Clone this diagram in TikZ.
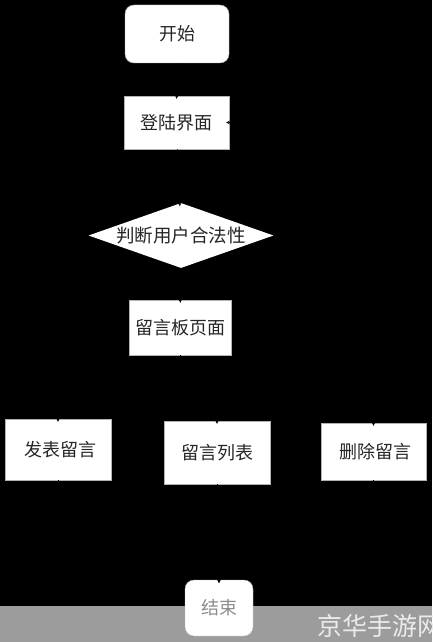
\documentclass[tikz,border=0pt]{standalone}
\usepackage{fontspec}
\newfontfamily\cjk{Noto Sans CJK SC}
\usetikzlibrary{shapes.geometric, arrows, positioning}

\begin{document}
\begin{tikzpicture}[
    x=1pt, y=-1pt,
    box/.style={draw=gray!60, fill=white, rectangle, inner sep=0pt, align=center, text=black!85, font=\cjk\fontsize{18}{20}\selectfont},
    term/.style={box, rounded corners=9pt},
    decision/.style={diamond, fill=white, inner sep=0pt, aspect=2.85, minimum width=185pt, minimum height=65pt, text=black!85, font=\cjk\fontsize{18.5}{20}\selectfont},
    arrow/.style={->, >=stealth, semithick, black, shorten >=-3pt}
]

% background and bottom band
\fill[black] (0,0) rectangle (432,642);
\useasboundingbox (0,0) rectangle (432,642);
\fill[black!39] (0,606) rectangle (432,642);
\node[anchor=west, text=black!8, font=\cjk\fontsize{25}{28}\selectfont] (wm) at (314,626) {京华手游网};

\node[term, minimum width=104pt, minimum height=58pt] (start) at (177,34) {开始};
\node[box, minimum width=105pt, minimum height=53pt] (login) at (176.5,122.5) {登陆界面};
\node[decision] (judge) at (181,235.5) {判断用户合法性};
\node[box, minimum width=102pt, minimum height=55pt] (board) at (180,327.5) {留言板页面};
\node[box, minimum width=106pt, minimum height=61pt] (post) at (58,449.5) {\ 发表留言};
\node[box, minimum width=106pt, minimum height=63pt] (list) at (217,452.5) {留言列表};
\node[box, minimum width=105pt, minimum height=57pt] (del) at (373.5,451.5) {\ 删除留言};
\node[term, minimum width=68pt, minimum height=56pt, text=black!45] (end) at (219,608) {结束};

\foreach \from/\to in {start/login, login/judge, judge/board}
    \draw[arrow] (\from) -- (\to);
\draw[arrow] (judge.east) -- ++(40,0) |- (login.east);

\foreach \to in {post, list, del}
    \draw[arrow] (board.south) -- ++(0,35) -| (\to.north);
\foreach \from in {post, list, del}
    \draw[arrow] (\from.south) -- ++(0,50) -| (end.north);

\end{tikzpicture}
\end{document}
